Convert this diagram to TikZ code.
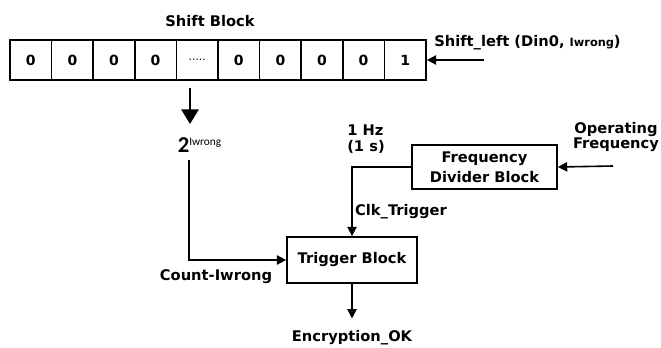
\documentclass[tikz,border=0pt]{standalone}
\usepackage{fontspec}
\setmainfont{DejaVu Sans}
\newfontfamily\calib{Carlito}
\usetikzlibrary{arrows.meta,positioning}
\newcommand{\celldots}{{\mdseries\fontsize{8}{9}\selectfont .....}}
\tikzset{
  blk/.style={draw,line width=1.3pt,align=center,inner sep=0pt,font=\fontsize{11}{15}\selectfont\bfseries},
  cell/.style={draw,line width=1.3pt,minimum width=31.2pt,minimum height=30pt,inner sep=0pt,font=\fontsize{10.5}{12}\selectfont\bfseries},
  lbl/.style={inner sep=0pt,font=\fontsize{11}{11.5}\selectfont\bfseries},
  arr/.style={line width=1.2pt,-{Triangle[length=7pt,width=7pt]}},
  bigarr/.style={line width=1.4pt,-{Triangle[length=11pt,width=13pt]}}
}

\begin{document}
\begin{tikzpicture}[x=0.75pt,y=-0.75pt]
  \useasboundingbox (0,0) rectangle (661,347);
  % shift register
  \node[lbl] (title) at (210,21) {Shift Block};
  \foreach \v [count=\i from 0] in {0,0,0,0,\celldots,0,0,0,0,1}
    \node[cell] (c\i) at (30.8+41.6*\i,60) {\v};
  \coordinate (sin) at (484,60);
  \draw[arr] (sin) -- (c9.east);
  \node[lbl,anchor=west] (shl) at (434,43) {Shift\_left (Din0, {\fontsize{8.5}{9}\selectfont Iwrong})};
  \coordinate (dtop) at (190,88);
  \coordinate (dbot) at (190,124);
  \draw[bigarr] (dtop) -- (dbot);
  \node[inner sep=0pt] (pw) at (199.5,145) {\calib\fontsize{17}{18}\selectfont\bfseries 2\raisebox{5.5pt}{\mdseries\fontsize{8.5}{9}\selectfont Iwrong}};
  % trigger side
  \node[blk,minimum width=97.5pt,minimum height=34.5pt] (trig) at (352,260) {Trigger Block};
  \coordinate (cnt) at (189,160);
  \draw[arr] (cnt) |- (trig.west);
  \node[lbl] (cntl) at (216,277) {Count-Iwrong};
  \node[lbl] (enc) at (352,338) {Encryption\_OK};
  \draw[arr,shorten >=9pt] (trig.south) -- (enc.north);
  % frequency divider
  \node[blk,minimum width=108.75pt,minimum height=33pt] (fdiv) at (484.5,167) {Frequency\\Divider Block};
  \node[lbl,align=center] (opf) at (616,137) {Operating\\Frequency};
  \coordinate (opin) at (613,166);
  \draw[arr] (opin) -- (fdiv.east);
  \draw[arr] (fdiv.west) -| (trig.north);
  \node[lbl,align=left,anchor=west] (hz) at (347,139) {1 Hz\\(1 s)};
  \node[lbl] (clk) at (401,212) {Clk\_Trigger};
\end{tikzpicture}
\end{document}
